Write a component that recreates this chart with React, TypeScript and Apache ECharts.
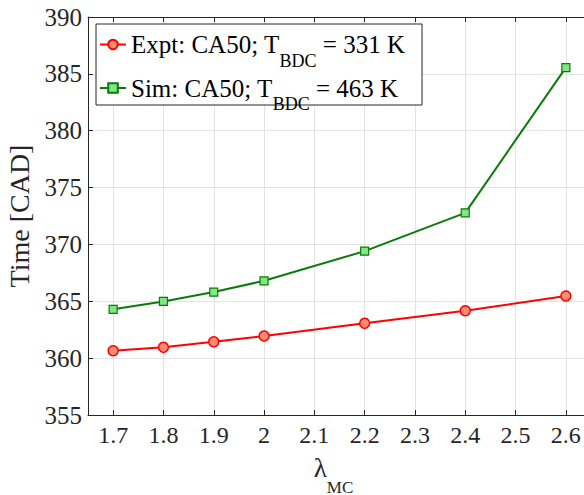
import React, { useEffect, useRef } from "react";
import * as echarts from "echarts";

const lambdaExpt = [1.7, 1.8, 1.9, 2.0, 2.2, 2.4, 2.6];
const ca50Expt = [360.65, 360.95, 361.44, 361.94, 363.06, 364.17, 365.46];
const lambdaSim = [1.7, 1.8, 1.9, 2.0, 2.2, 2.4, 2.6];
const ca50Sim = [364.29, 364.99, 365.81, 366.8, 369.41, 372.78, 385.55];
const xTicks = [1.7, 1.8, 1.9, 2.0, 2.1, 2.2, 2.3, 2.4, 2.5, 2.6];
const seriesNames = ["Expt", "Sim"];
const legendParts: Record<string, [string, string, string]> = {
  Expt: ["Expt: CA50; T", "BDC", " = 331 K"],
  Sim: ["Sim: CA50; T", "BDC", " = 463 K"],
};

const FONT = "Liberation Serif";
const AX = "#262626";
const GRID = "#e3e3e3";

export default function App() {
  const ref = useRef<HTMLDivElement>(null);
  useEffect(() => {
    const chart = echarts.init(ref.current!, null, { renderer: "svg" });
    chart.setOption({
      animation: false,
      backgroundColor: "#ffffff",
      textStyle: { fontFamily: FONT },
      grid: { left: 88, top: 17, right: -7, bottom: 80, outerBoundsMode: "none", containLabel: false },
      legend: {
        orient: "vertical",
        left: 96,
        top: 24,
        width: 322,
        padding: [8, 17, -8, 3],
        itemGap: 6,
        itemWidth: 26,
        itemHeight: 12,
        backgroundColor: "#ffffff",
        borderColor: AX,
        borderWidth: 1,
        borderRadius: 0,
        data: seriesNames,
        formatter: (name: string) => {
          const p = legendParts[name];
          return `{a|${p[0]}}{s|${p[1]}}{a|${p[2]}}`;
        },
        textStyle: {
          fontFamily: FONT,
          color: "#000",
          rich: {
            a: { fontFamily: FONT, fontSize: 25, color: "#000", lineHeight: 38, verticalAlign: "middle" },
            s: { fontFamily: FONT, fontSize: 18, color: "#000", height: 6, verticalAlign: "bottom" },
          },
        },
      },
      xAxis: [
        {
          type: "value",
          min: 1.65,
          max: 2.65,
          name: "{l|λ}{m|MC}",
          nameLocation: "middle",
          nameGap: 38,
          nameTextStyle: {
            fontFamily: FONT,
            padding: [0, 12, 0, 0],
            rich: {
              l: { fontFamily: FONT, fontSize: 27, color: AX, height: 30, lineHeight: 40, verticalAlign: "top" },
              m: { fontFamily: FONT, fontSize: 17, color: AX, height: 12, verticalAlign: "bottom" },
            },
          },
          axisLine: { show: true, onZero: false, lineStyle: { color: AX, width: 1 } },
          axisTick: { show: true, inside: true, length: 5, customValues: xTicks, lineStyle: { color: AX } },
          axisLabel: {
            customValues: xTicks,
            color: AX,
            margin: 8,
            formatter: (v: number) => `{t|${Math.round(v * 10) / 10}}`,
            rich: { t: { fontFamily: FONT, fontSize: 24, color: AX } },
          },
          splitLine: { show: true, lineStyle: { color: GRID, width: 1 } },
        },
        {
          type: "value",
          position: "top",
          min: 1.65,
          max: 2.65,
          axisLine: { show: true, onZero: false, lineStyle: { color: AX, width: 1 } },
          axisTick: { show: true, inside: true, length: 5, customValues: xTicks, lineStyle: { color: AX } },
          axisLabel: { show: false, customValues: xTicks },
          splitLine: { show: false },
        },
      ],
      yAxis: {
        type: "value",
        min: 355,
        max: 390,
        interval: 5,
        name: "Time [CAD]",
        nameLocation: "middle",
        nameGap: 47,
        nameTextStyle: { fontFamily: FONT, fontSize: 28, color: AX },
        axisLine: { show: true, onZero: false, lineStyle: { color: AX, width: 1 } },
        axisTick: { show: true, inside: true, length: 5, lineStyle: { color: AX } },
        axisLabel: {
          color: AX,
          margin: 6,
          formatter: (v: number) => `{t|${v}}`,
          rich: { t: { fontFamily: FONT, fontSize: 25, color: AX } },
        },
        splitLine: { show: true, lineStyle: { color: GRID, width: 1 } },
      },
      series: [
        {
          name: "Expt",
          type: "line",
          data: lambdaExpt.map((x, i) => [x, ca50Expt[i]]),
          symbol: "circle",
          symbolSize: 10,
          lineStyle: { color: "#ff0000", width: 2 },
          itemStyle: { color: "#ff8c72", borderColor: "#ff0000", borderWidth: 1.5 },
          color: "#ff0000",
          z: 3,
        },
        {
          name: "Sim",
          type: "line",
          data: lambdaSim.map((x, i) => [x, ca50Sim[i]]),
          symbol: "rect",
          symbolSize: 8,
          lineStyle: { color: "#0a7a0a", width: 2 },
          itemStyle: { color: "#80e880", borderColor: "#0a7a0a", borderWidth: 1.2 },
          color: "#0a7a0a",
          z: 2,
        },
      ],
    });
    return () => chart.dispose();
  }, []);
  return <div ref={ref} style={{ width: 584, height: 495, position: "absolute", left: 0, top: 0 }} />;
}
